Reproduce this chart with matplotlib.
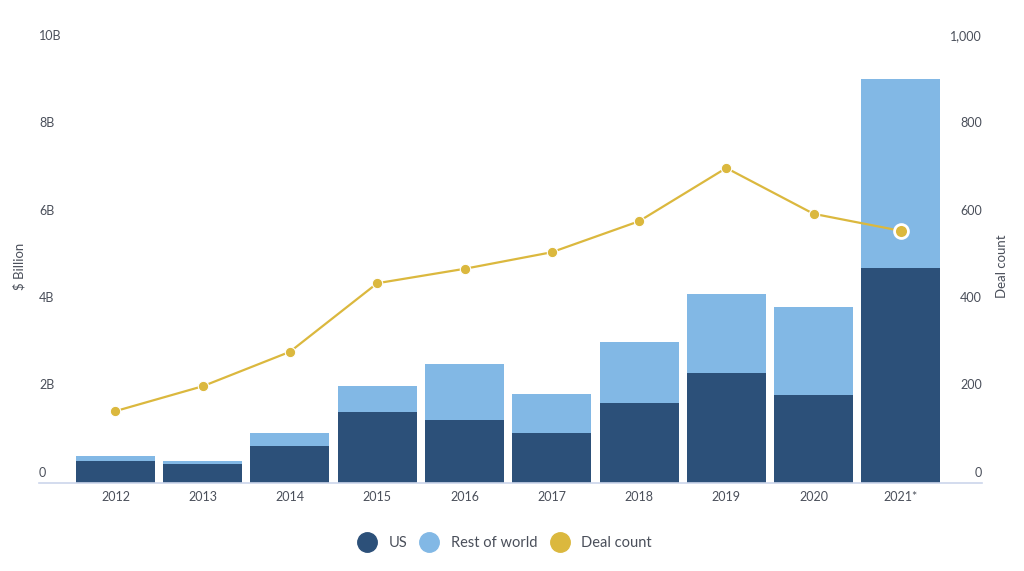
import numpy as np
import matplotlib
matplotlib.use("Agg")
import matplotlib.pyplot as plt
from matplotlib.transforms import ScaledTranslation
from matplotlib.lines import Line2D

plt.rcParams['font.family'] = ['Lato', 'DejaVu Sans']

# donnees
annees = ["2012", "2013", "2014", "2015", "2016", "2017", "2018", "2019", "2020", "2021*"]
us = [0.50, 0.43, 0.83, 1.61, 1.43, 1.13, 1.83, 2.51, 2.02, 4.93]
total = [0.61, 0.50, 1.13, 2.22, 2.73, 2.03, 3.22, 4.33, 4.03, 9.24]
reste_monde = [t - u for t, u in zip(total, us)]
nb_deals = [164, 221, 300, 457, 490, 528, 599, 721, 616, 577]

c_us = '#2c5079'
c_row = '#82b8e5'
c_deal = '#dbb83e'
c_txt = '#4a4f5a'

fig = plt.figure(figsize=(10.24, 5.71), dpi=100)
ax = fig.add_axes([39/1024, (571-482.7)/571, (982-39)/1024, 436.5/571])
x = np.arange(len(annees))

ax.bar(x, us, width=0.905, color=c_us, zorder=2)
ax.bar(x, reste_monde, bottom=us, width=0.905, color=c_row, zorder=2)
ax.set_xlim(-0.876, 9.93)
ax.set_ylim(0, 10)
ax.set_xticks(x)
ax.set_xticklabels(annees)
ax.set_yticks([0, 2, 4, 6, 8, 10])
ax.set_yticklabels(["0", "2B", "4B", "6B", "8B", "10B"])
for s in ['top', 'left', 'right']:
    ax.spines[s].set_visible(False)
ax.spines['bottom'].set_color('#ccd6eb')
ax.spines['bottom'].set_linewidth(1.2)
ax.tick_params(axis='x', length=0, pad=6, labelsize=9, colors=c_txt)
ax.tick_params(axis='y', length=0, pad=0, labelsize=9, colors=c_txt)
decal = ScaledTranslation(0, 8/72, fig.dpi_scale_trans)
for lab in ax.get_yticklabels():
    lab.set_horizontalalignment('left')
    lab.set_transform(lab.get_transform() + decal)

ax2 = ax.twinx()
ax2.plot(x, nb_deals, color=c_deal, lw=1.6, marker='o', ms=7.5,
         mec='white', mew=0.8, zorder=3)
ax2.plot(x[-1], nb_deals[-1], marker='o', ms=10, color=c_deal,
         mec='white', mew=2, zorder=4)
ax2.set_ylim(0, 1000)
ax2.set_yticks([0, 200, 400, 600, 800, 1000])
ax2.set_yticklabels(["0", "200", "400", "600", "800", "1,000"])
for s in ['top', 'left', 'right', 'bottom']:
    ax2.spines[s].set_visible(False)
ax2.tick_params(axis='y', length=0, pad=0, labelsize=9, colors=c_txt)
for lab in ax2.get_yticklabels():
    lab.set_horizontalalignment('right')
    lab.set_transform(lab.get_transform() + decal)

fig.text(19/1024, 1 - 266/571, "$ Billion", rotation=90, ha='center', va='center',
         fontsize=9.5, color=c_txt)
fig.text(1002/1024, 1 - 266/571, "Deal count", rotation=90, ha='center', va='center',
         fontsize=9.5, color=c_txt)

poignees = [
    Line2D([], [], ls='none', marker='o', ms=14, color=c_us, label='US'),
    Line2D([], [], ls='none', marker='o', ms=14, color=c_row, label='Rest of world'),
    Line2D([], [], ls='none', marker='o', ms=14, color=c_deal, label='Deal count'),
]
leg = fig.legend(handles=poignees, loc='center', bbox_to_anchor=(505/1024, 1 - 543/571),
                 ncol=3, frameon=False, fontsize=10.5, handletextpad=0.9,
                 columnspacing=0.9, handlelength=1.2, borderpad=0)
for t in leg.get_texts():
    t.set_color(c_txt)

fig.savefig("out.png", dpi=100)
